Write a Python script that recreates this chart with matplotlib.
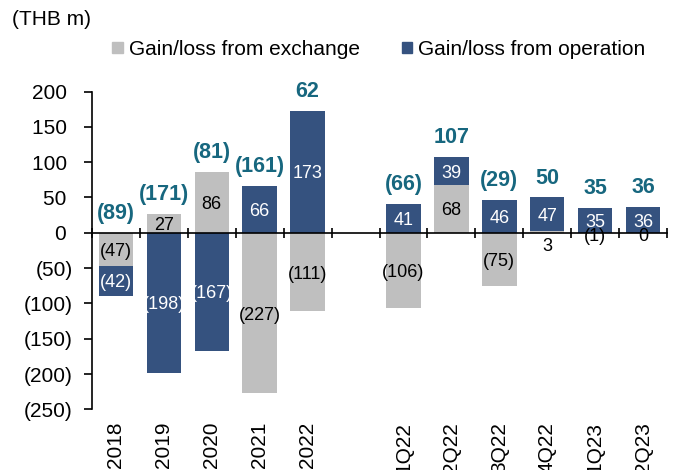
import numpy as np
import matplotlib
matplotlib.use('Agg')
import matplotlib.pyplot as plt
from matplotlib.patches import Patch

plt.rcParams['font.family'] = ['Liberation Sans', 'DejaVu Sans']

# data (THB m), blank slot between years and quarters
categories = ['2018', '2019', '2020', '2021', '2022', '',
              '1Q22', '2Q22', '3Q22', '4Q22', '1Q23', '2Q23']
exchange = [-47, 27, 86, -227, -111, np.nan, -106, 68, -75, 3, -1, 0]
operation = [-42, -198, -167, 66, 173, np.nan, 41, 39, 46, 47, 35, 36]
totals = [-89, -171, -81, -161, 62, np.nan, -66, 107, -29, 50, 35, 36]

GREY = '#BFBFBF'
NAVY = '#35527F'
TEAL = '#17677F'


def fmt(v):
    if v < 0:
        return '(%d)' % abs(v)
    return '%d' % v


fig = plt.figure(figsize=(6.78, 4.70), dpi=100)
ax = fig.add_axes([0.1357, 0.1291, 0.8481, 0.6762])

x = np.arange(len(categories))
exch = np.array(exchange, dtype=float)
oper = np.array(operation, dtype=float)
# stack operation on exchange only when both have the same sign
base = np.where(np.sign(exch) == np.sign(oper), exch, 0.0)

w = 0.72
ax.bar(x, exch, w, color=GREY, zorder=2)
ax.bar(x, oper, w, bottom=base, color=NAVY, zorder=2)

for i in range(len(categories)):
    if np.isnan(exch[i]):
        continue
    e, o = exch[i], oper[i]
    # exchange labels
    if abs(e) < 5:
        ye = -20 if e > 0 else -6
    else:
        ye = e / 2 - 3
    ax.text(x[i], ye, fmt(e), ha='center', va='center', fontsize=13,
            color='black', zorder=3)
    # operation labels
    ax.text(x[i], base[i] + o / 2 - 3, fmt(o), ha='center', va='center',
            fontsize=13, color='white', zorder=3)
    # totals
    top = max(e, 0) + max(o, 0)
    ax.annotate(fmt(totals[i]), (x[i], top), xytext=(0, 14),
                textcoords='offset points', ha='center', va='center',
                fontsize=15.5, fontweight='bold', color=TEAL,
                annotation_clip=False)

ax.set_xlim(-0.5, len(categories) - 0.5)
ax.set_ylim(-250, 200)
yt = np.arange(-250, 201, 50)
ax.set_yticks(yt)
# positives keep a trailing space so digits line up with the bracketed ones
ax.set_yticklabels([fmt(v) if v < 0 else fmt(v) + ' ' for v in yt],
                   fontsize=15)
ax.tick_params(axis='y', direction='out', length=6, width=1.2, pad=8)

for s in ['top', 'right']:
    ax.spines[s].set_visible(False)
ax.spines['left'].set_linewidth(1.2)
ax.spines['bottom'].set_position(('data', 0))
ax.spines['bottom'].set_linewidth(1.2)
ax.spines['bottom'].set_zorder(4)
ax.set_xticks(np.arange(-0.5, len(categories)), labels=[])
ax.tick_params(axis='x', direction='inout', length=7, width=1.2)

# category labels along the bottom edge
sec = ax.secondary_xaxis('bottom')
sec.set_xticks(x, labels=categories, rotation=90, fontsize=15)
sec.tick_params(length=0, pad=9)
sec.spines['bottom'].set_visible(False)

fig.text(0.018, 0.958, '(THB m)', fontsize=15, ha='left', va='center')

handles = [Patch(color=GREY, label='Gain/loss from exchange'),
           Patch(color=NAVY, label='Gain/loss from operation')]
fig.legend(handles=handles, loc='center', bbox_to_anchor=(0.559, 0.895),
           ncol=2, frameon=False, fontsize=15, handlelength=0.5,
           handleheight=0.5, handletextpad=0.3, columnspacing=2.0)

fig.savefig('out.png', dpi=100)
